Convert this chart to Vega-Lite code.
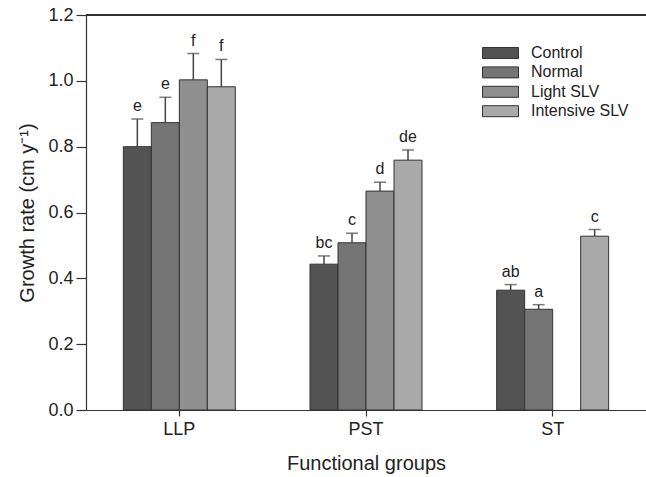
{
  "$schema": "https://vega.github.io/schema/vega-lite/v6.json",
  "width": 560,
  "height": 395,
  "autosize": {"type": "none"},
  "padding": {"left": 86, "top": 15, "right": 0, "bottom": 67},
  "background": "white",
  "config": {
    "view": {"stroke": null},
    "font": "Liberation Sans",
    "axis": {
      "domainColor": "#333333",
      "tickColor": "#333333",
      "labelColor": "#222222",
      "titleColor": "#222222",
      "labelFont": "Liberation Sans",
      "titleFont": "Liberation Sans",
      "labelFontSize": 18,
      "titleFontSize": 20,
      "titleFontWeight": "normal",
      "grid": false,
      "domainWidth": 1.2,
      "tickWidth": 1.2
    }
  },
  "data": {
    "values": [
      {"group": "LLP", "treatment": "Control", "value": 0.80, "upper": 0.884, "label": "e"},
      {"group": "LLP", "treatment": "Normal", "value": 0.873, "upper": 0.95, "label": "e"},
      {"group": "LLP", "treatment": "Light SLV", "value": 1.003, "upper": 1.083, "label": "f"},
      {"group": "LLP", "treatment": "Intensive SLV", "value": 0.982, "upper": 1.065, "label": "f"},
      {"group": "PST", "treatment": "Control", "value": 0.443, "upper": 0.468, "label": "bc"},
      {"group": "PST", "treatment": "Normal", "value": 0.508, "upper": 0.537, "label": "c"},
      {"group": "PST", "treatment": "Light SLV", "value": 0.665, "upper": 0.692, "label": "d"},
      {"group": "PST", "treatment": "Intensive SLV", "value": 0.759, "upper": 0.790, "label": "de"},
      {"group": "ST", "treatment": "Control", "value": 0.364, "upper": 0.381, "label": "ab"},
      {"group": "ST", "treatment": "Normal", "value": 0.306, "upper": 0.320, "label": "a"},
      {"group": "ST", "treatment": "Intensive SLV", "value": 0.528, "upper": 0.548, "label": "c"}
    ]
  },
  "layer": [
    {
      "mark": {"type": "rule", "color": "#444444", "strokeWidth": 1.5},
      "encoding": {
        "x": {
          "field": "group",
          "type": "nominal",
          "sort": ["LLP", "PST", "ST"],
          "scale": {"paddingInner": 0.4, "paddingOuter": 0.2},
          "axis": {
            "title": "Functional groups",
            "labelAngle": 0,
            "tickSize": 6,
            "labelPadding": 4,
            "titlePadding": 15
          }
        },
        "xOffset": {
          "field": "treatment",
          "type": "nominal",
          "scale": {
            "domain": ["Control", "Normal", "Light SLV", "Intensive SLV"],
            "paddingInner": 0,
            "paddingOuter": 0
          }
        },
        "y": {"field": "value", "type": "quantitative", "title": "Growth rate (cm y⁻¹)"},
        "y2": {"field": "upper"}
      }
    },
    {
      "mark": {"type": "bar", "stroke": "#333333", "strokeWidth": 1},
      "encoding": {
        "x": {"field": "group", "type": "nominal", "sort": ["LLP", "PST", "ST"], "title": "Functional groups"},
        "xOffset": {"field": "treatment", "type": "nominal"},
        "y": {
          "field": "value",
          "type": "quantitative",
          "title": "Growth rate (cm y⁻¹)",
          "scale": {"domain": [0, 1.2], "nice": false},
          "axis": {
            "values": [0, 0.2, 0.4, 0.6, 0.8, 1.0, 1.2],
            "format": ".1f",
            "tickSize": 10,
            "labelPadding": 3,
            "titlePadding": 10
          }
        },
        "color": {
          "field": "treatment",
          "type": "nominal",
          "scale": {
            "domain": ["Control", "Normal", "Light SLV", "Intensive SLV"],
            "range": ["#535353", "#757575", "#8f8f8f", "#a9a9a9"]
          },
          "legend": {
            "title": null,
            "orient": "none",
            "legendX": 406.5,
            "legendY": 30,
            "padding": 0,
            "symbolType": "M-3.6,-1.1H3.6V1.1H-3.6Z",
            "symbolSize": 100,
            "symbolStrokeColor": "#333333",
            "symbolStrokeWidth": 1,
            "symbolOpacity": 1,
            "labelOffset": 22.5,
            "labelFontSize": 16,
            "labelFont": "Liberation Sans",
            "labelColor": "#222222",
            "rowPadding": 3.4
          }
        }
      }
    },
    {
      "mark": {"type": "tick", "size": 12, "thickness": 1.5, "color": "#444444"},
      "encoding": {
        "x": {"field": "group", "type": "nominal", "sort": ["LLP", "PST", "ST"], "title": "Functional groups"},
        "xOffset": {"field": "treatment", "type": "nominal"},
        "y": {"field": "upper", "type": "quantitative", "title": "Growth rate (cm y⁻¹)"}
      }
    },
    {
      "mark": {"type": "text", "baseline": "bottom", "dy": -5, "fontSize": 16, "font": "Liberation Sans", "color": "#222222"},
      "encoding": {
        "x": {"field": "group", "type": "nominal", "sort": ["LLP", "PST", "ST"], "title": "Functional groups"},
        "xOffset": {"field": "treatment", "type": "nominal"},
        "y": {"field": "upper", "type": "quantitative", "title": "Growth rate (cm y⁻¹)"},
        "text": {"field": "label"}
      }
    },
    {
      "mark": {"type": "rule", "color": "#333333", "strokeWidth": 1.2},
      "encoding": {
        "y": {"datum": 1.2}
      }
    }
  ]
}
